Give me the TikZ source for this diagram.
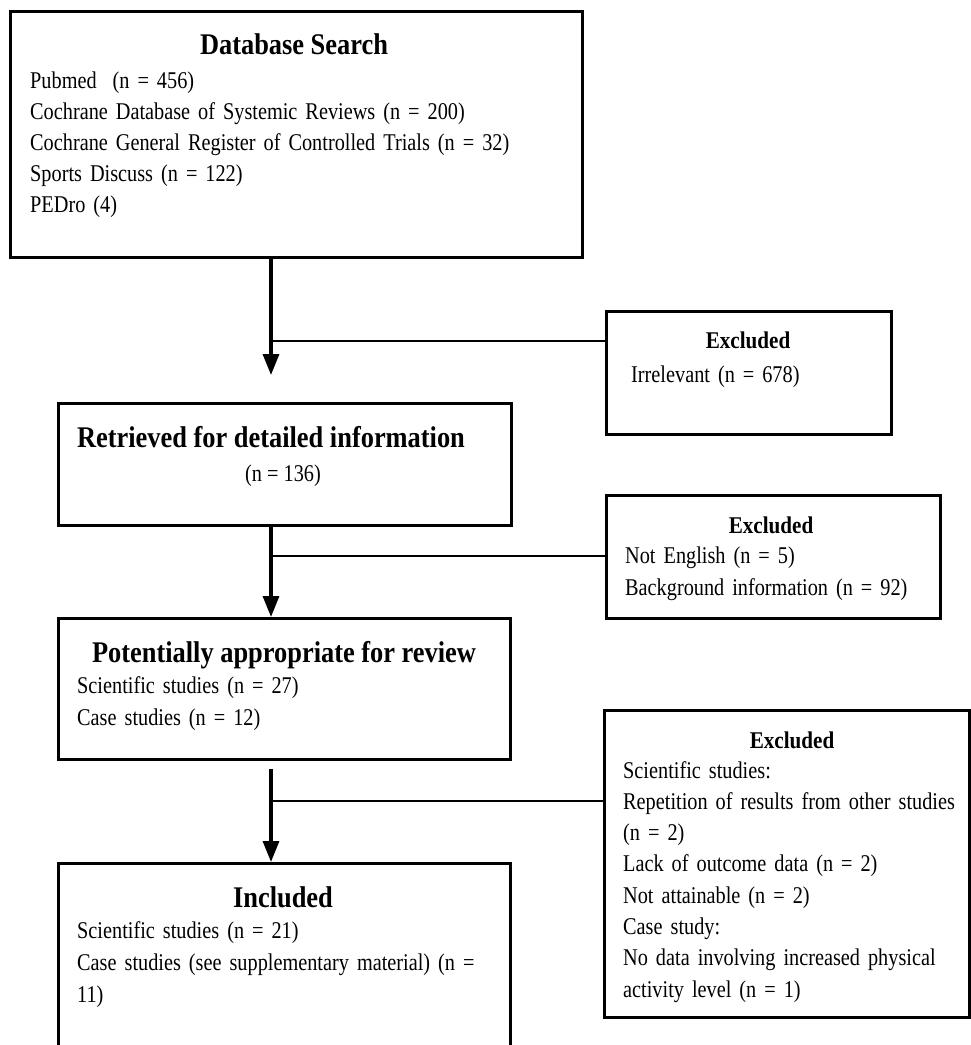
\documentclass[tikz,border=0pt]{standalone}
\usepackage{fontspec}
\setmainfont{Liberation Serif}[FakeStretch=0.845]
\newfontfamily\headfont{Liberation Serif}[FakeStretch=0.88]
\usetikzlibrary{arrows.meta}
\begin{document}
\begin{tikzpicture}[x=1pt,y=-1pt,
  box/.style={draw, line width=2.7pt, inner sep=0pt, anchor=north west},
  head/.style={font=\headfont\bfseries\fontsize{30}{34}\selectfont, anchor=base, inner sep=0pt},
  exhead/.style={font=\headfont\bfseries\fontsize{24}{28}\selectfont, anchor=base, inner sep=0pt},
  body/.style={font=\fontsize{24}{#1}\selectfont, anchor=base west, inner sep=0pt, align=left, text width=500pt},
  conn/.style={line width=2.7pt},
  arr/.style={line width=3.2pt, -{Triangle[length=21pt,width=16pt]}}
]
\useasboundingbox (0,0) rectangle (970,1045);
% boxes
\node[box, minimum width=572pt, minimum height=246pt] (db) at (9,10) {};
\node[box, minimum width=285pt, minimum height=123pt] (ex1) at (605,310) {};
\node[box, minimum width=453pt, minimum height=122pt] (ret) at (57,402) {};
\node[box, minimum width=334pt, minimum height=123pt] (ex2) at (605,494) {};
\node[box, minimum width=452pt, minimum height=141pt] (pot) at (57,617) {};
\node[box, minimum width=365pt, minimum height=307pt] (ex3) at (603,709) {};
\node[box, minimum width=452pt, minimum height=192pt] (inc) at (57,862) {};
% texts
\node[head] (dbh) at (294,54) {Database Search};
\node[body=31pt] (dbt) at (30,88) {Pubmed\ \ (n = 456)\\Cochrane Database of Systemic Reviews (n = 200)\\Cochrane General Register of Controlled Trials (n = 32)\\Sports Discuss (n = 122)\\PEDro (4)};
\node[exhead] (ex1h) at (748,348) {Excluded};
\node[body=31pt] (ex1t) at (631,382) {Irrelevant (n = 678)};
\node[head] (reth) at (271,447) {Retrieved for detailed information};
\node[anchor=base, inner sep=0pt, font=\fontsize{24}{31}\selectfont] (rett) at (283,481) {(n = 136)};
\node[exhead] (ex2h) at (771,533) {Excluded};
\node[body=32pt] (ex2t) at (625,563) {Not English (n = 5)\\Background information (n = 92)};
\node[head] (poth) at (284,662) {Potentially appropriate for review};
\node[body=32pt] (pott) at (77,693) {Scientific studies (n = 27)\\Case studies (n = 12)};
\node[exhead] (ex3h) at (792,748) {Excluded};
\node[body=31.3pt] (ex3t) at (623,778) {Scientific studies:\\Repetition of results from other studies\\(n = 2)\\Lack of outcome data (n = 2)\\Not attainable (n = 2)\\Case study:\\No data involving increased physical\\activity level (n = 1)};
\node[head] (inch) at (283,907) {Included};
\node[body=32pt] (inct) at (77,938) {Scientific studies (n = 21)\\Case studies (see supplementary material) (n =\\11)};
% connectors
\coordinate (j1) at (271,341);
\coordinate (t1) at (271,375);
\coordinate (j2) at (271,556);
\coordinate (s3) at (271,769);
\coordinate (j3) at (271,801);
\draw[arr] (db.south -| j1) -- (t1);
\draw[conn] (j1) -- (ex1.west |- j1);
\draw[arr] (ret.south -| j2) -- (pot.north -| j2);
\draw[conn] (j2) -- (ex2.west |- j2);
\draw[arr] (s3) -- (inc.north -| j3);
\draw[conn] (j3) -- (ex3.west |- j3);
\end{tikzpicture}
\end{document}
